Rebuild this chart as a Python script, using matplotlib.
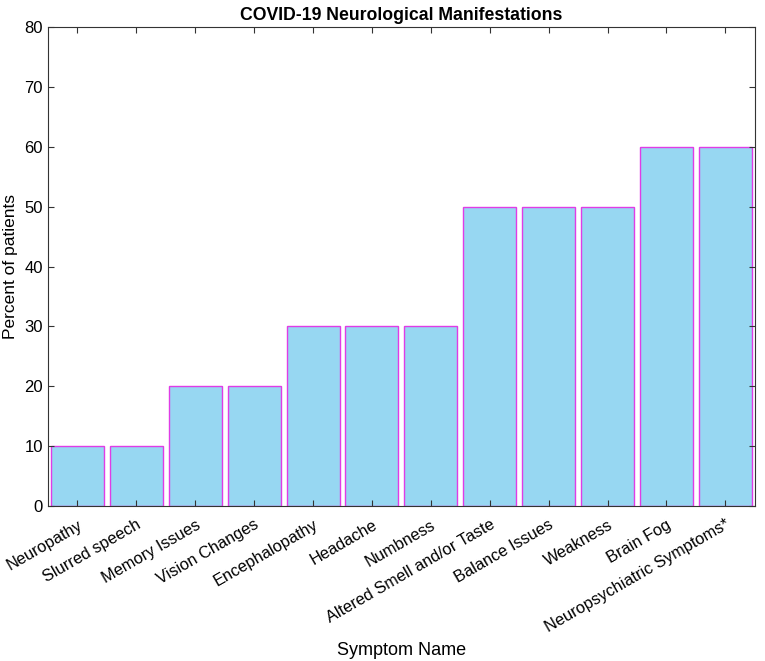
import numpy as np
import matplotlib
matplotlib.use('Agg')
import matplotlib.pyplot as plt

plt.rcParams['font.family'] = ['Liberation Sans', 'DejaVu Sans']

symptoms = ['Neuropathy', 'Slurred speech', 'Memory Issues', 'Vision Changes',
            'Encephalopathy', 'Headache', 'Numbness', 'Altered Smell and/or Taste',
            'Balance Issues', 'Weakness', 'Brain Fog', 'Neuropsychiatric Symptoms*']
percent = [10, 10, 20, 20, 30, 30, 30, 50, 50, 50, 60, 60]

fig = plt.figure(figsize=(7.65, 6.61), dpi=100)
ax = fig.add_axes([0.0627, 0.2345, 0.924, 0.7245])

pos = np.arange(1, len(symptoms) + 1)
ax.bar(pos, percent, width=0.9, color='#97D7F2', edgecolor='#E03CE6', linewidth=1.0)

ax.set_xlim(0.5, len(symptoms) + 0.5)
ax.set_ylim(0, 80)
ax.set_yticks(np.arange(0, 81, 10))
ax.set_xticks(pos)
ax.set_xticklabels(symptoms, rotation=30, ha='right', rotation_mode='anchor', fontsize=11.8)
ax.tick_params(axis='x', pad=8)
ax.tick_params(axis='y', labelsize=12)
ax.tick_params(direction='in', top=True, right=True, length=4, width=0.8, color='#333333')
for s in ax.spines.values():
    s.set_linewidth(0.8)
    s.set_color('#333333')

ax.set_title('COVID-19 Neurological Manifestations', fontsize=12.7, fontweight='bold', pad=5)
ax.set_ylabel('Percent of patients', fontsize=12.5, labelpad=5)
ax.set_xlabel('Symptom Name', fontsize=13)
ax.xaxis.set_label_coords(0.5, -0.283)

fig.savefig('out.png', dpi=100)
